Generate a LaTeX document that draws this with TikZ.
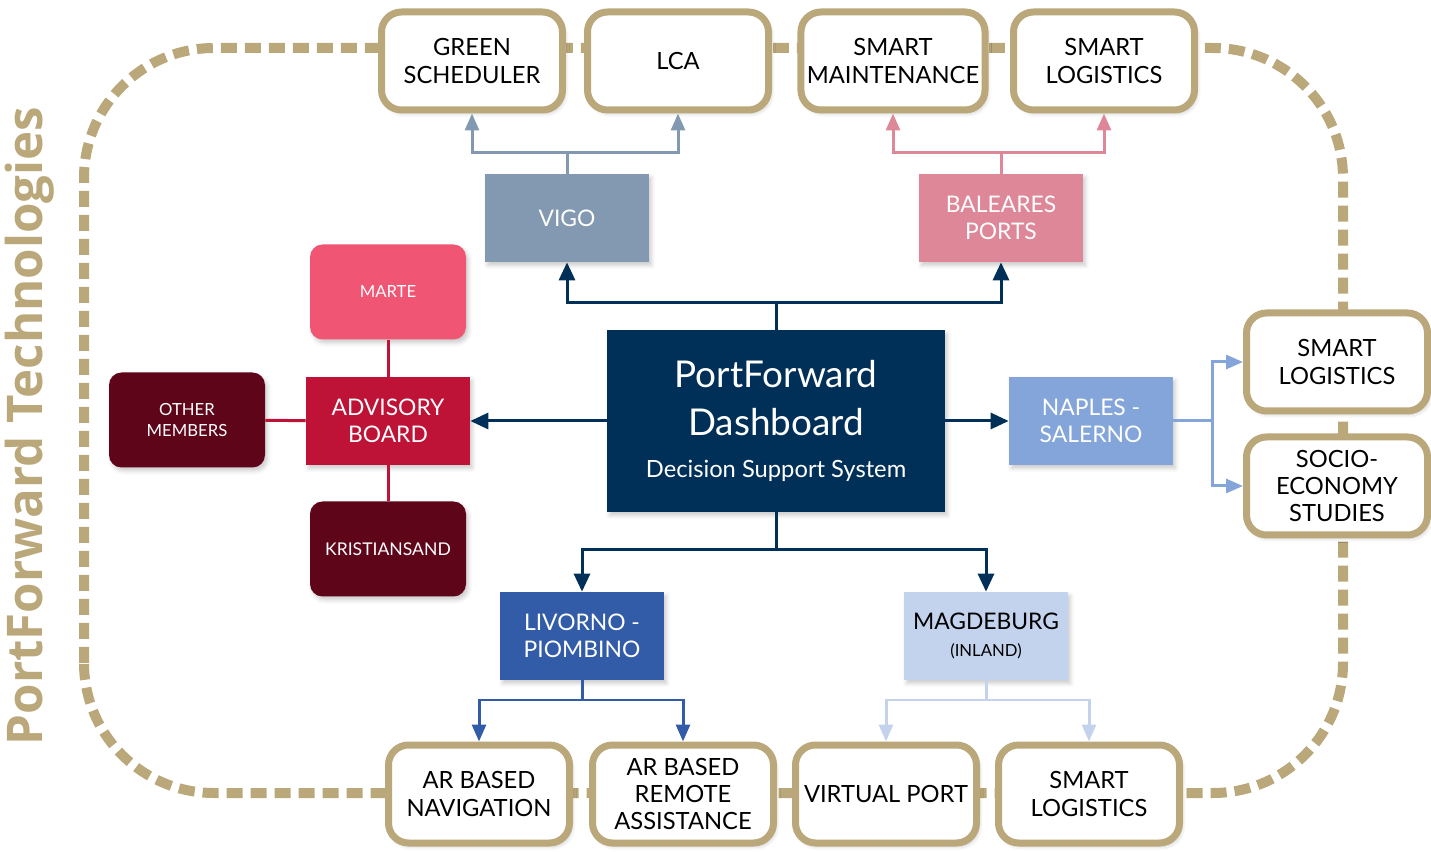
\documentclass[tikz,border=0pt]{standalone}
\usepackage{fontspec}
\setmainfont{Lato}
\newfontfamily\titlefont{Open Sans}
\usetikzlibrary{positioning, calc, arrows.meta, shadows.blur}
\definecolor{pftan}{RGB}{186,167,122}
\definecolor{navy}{RGB}{0,48,88}
\definecolor{vigoblue}{RGB}{130,153,177}
\definecolor{balpink}{RGB}{222,135,153}
\definecolor{martepink}{RGB}{240,86,116}
\definecolor{advred}{RGB}{190,18,55}
\definecolor{maroon}{RGB}{94,5,25}
\definecolor{naplesblue}{RGB}{132,165,218}
\definecolor{livblue}{RGB}{50,92,168}
\definecolor{magdeblue}{RGB}{195,211,238}
\tikzset{
	techbox/.style={
		draw=pftan,
		line width=0.14cm,
		rounded corners=0.4cm,
		fill=white,
		minimum width=3.62cm,
		minimum height=1.96cm,
		align=center,
		font=\fontsize{13.5}{15.5}\selectfont,
		blur shadow={shadow xshift=0.05cm, shadow yshift=-0.07cm, shadow blur radius=0.08cm, shadow opacity=20}
	},
	port/.style={
		rectangle,
		minimum width=3.28cm,
		minimum height=1.76cm,
		align=center,
		text=white,
		font=\fontsize{13}{15.5}\selectfont,
		blur shadow={shadow xshift=0.05cm, shadow yshift=-0.07cm, shadow blur radius=0.08cm, shadow opacity=20}
	},
	member/.style={
		port,
		rounded corners=0.25cm,
		minimum width=3.12cm,
		minimum height=1.9cm,
		font=\fontsize{9.5}{12}\selectfont
	}
}

\begin{document}
\begin{tikzpicture}
	\tikzset{edge/.style={->, line width=0.06cm}}
	\tikzset{>={Triangle[length=0.36cm, width=0.32cm]}}
	\useasboundingbox (0,0) rectangle (28.62,17.02);
	
	\draw[pftan, line width=0.2cm, dash pattern=on 0.32cm off 0.16cm, rounded corners=2.6cm] (1.68,1.16) rectangle (26.86,16.06);
	\node(title) at (0.60,8.50) [rotate=90, text=pftan, font=\titlefont\bfseries\fontsize{28}{30}\selectfont] {PortForward Technologies};
	
	\node(green) at (9.44,15.80) [techbox] {GREEN\\SCHEDULER};
	\node(lca) at (13.56,15.80) [techbox] {LCA};
	\node(smaint) at (17.86,15.80) [techbox] {SMART\\MAINTENANCE};
	\node(tlogist) at (22.08,15.80) [techbox] {SMART\\LOGISTICS};
	
	\node(arnav) at (9.58,1.14) [techbox] {AR BASED\\NAVIGATION};
	\node(arremote) at (13.66,1.14) [techbox] {AR BASED\\REMOTE\\ASSISTANCE};
	\node(vport) at (17.72,1.14) [techbox] {VIRTUAL PORT};
	\node(blogist) at (21.78,1.14) [techbox] {SMART\\LOGISTICS};
	
	\node(rlogist) at (26.74,9.78) [techbox] {SMART\\LOGISTICS};
	\node(socio) at (26.74,7.30) [techbox] {SOCIO-\\ECONOMY\\STUDIES};
	
	\node(dash) at (15.52,8.60) [port, fill=navy, minimum width=6.76cm, minimum height=3.64cm, font=\fontsize{21}{27}\selectfont] {PortForward\\Dashboard\\[-3pt]\fontsize{13.5}{16}\selectfont Decision Support System};
	
	\node(vigo) at (11.34,12.66) [port, fill=vigoblue] {VIGO};
	\node(baleares) at (20.02,12.66) [port, fill=balpink] {BALEARES\\PORTS};
	\node(naples) at (21.82,8.60) [port, fill=naplesblue] {NAPLES -\\SALERNO};
	\node(livorno) at (11.64,4.30) [port, fill=livblue] {LIVORNO -\\PIOMBINO};
	\node(magde) at (19.72,4.30) [port, fill=magdeblue, text=black] {MAGDEBURG\\\fontsize{9.5}{12}\selectfont (INLAND)};
	
	\node(adv) at (7.76,8.60) [port, fill=advred] {ADVISORY\\BOARD};
	\node(marte) at (7.76,11.18) [member, fill=martepink] {MARTE};
	\node(others) at (3.74,8.62) [member, fill=maroon] {OTHER\\MEMBERS};
	\node(kristian) at (7.76,6.04) [member, fill=maroon, font=\fontsize{10}{12}\selectfont] {KRISTIANSAND};
	
	\draw[advred, line width=0.06cm] (adv) -- (marte);
	\draw[advred, line width=0.06cm] (adv) -- (kristian);
	\draw[advred, line width=0.06cm] (adv) -- (others);
	
	\coordinate(upfork) at (15.52,10.96);
	\coordinate(downfork) at (15.52,6.02);
	\draw[edge, navy] (dash) -- (upfork) -| (vigo);
	\draw[edge, navy] (upfork) -| (baleares);
	\draw[edge, navy] (dash) -- (downfork) -| (livorno);
	\draw[edge, navy] (downfork) -| (magde);
	\draw[edge, navy] (dash) -- (adv);
	\draw[edge, navy] (dash) -- (naples);
	
	\tikzset{>={Triangle[length=0.34cm, width=0.28cm]}}
	\coordinate(vigofork) at (11.34,13.96);
	\draw[edge, vigoblue] (vigo) -- (vigofork) -| (green);
	\draw[edge, vigoblue] (vigofork) -| (lca);
	
	\coordinate(balfork) at (20.02,13.96);
	\draw[edge, balpink] (baleares) -- (balfork) -| (smaint);
	\draw[edge, balpink] (balfork) -| (tlogist);
	
	\coordinate(naplesfork) at (24.24,8.60);
	\draw[edge, naplesblue] (naples) -- (naplesfork) |- (rlogist);
	\draw[edge, naplesblue] (naplesfork) |- (socio);
	
	\coordinate(livfork) at (11.64,3.02);
	\draw[edge, livblue] (livorno) -- (livfork) -| (arnav);
	\draw[edge, livblue] (livfork) -| (arremote);
	
	\coordinate(magdefork) at (19.72,3.02);
	\draw[edge, magdeblue] (magde) -- (magdefork) -| (vport);
	\draw[edge, magdeblue] (magdefork) -| (blogist);
\end{tikzpicture}
\end{document}
